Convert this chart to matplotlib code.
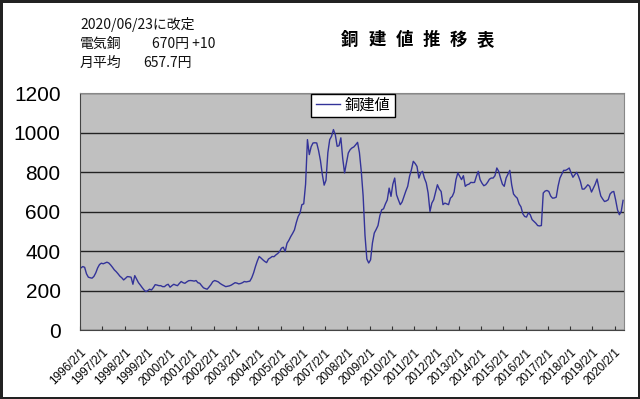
import matplotlib
matplotlib.use('Agg')
import matplotlib.pyplot as plt
import numpy as np

plt.rcParams['font.family'] = ['Liberation Sans', 'Noto Sans CJK JP']

# monthly copper base price (yen/kg), 1996/2 .. 2020/6
start_year = 1996
prices = [
    315, 322, 318, 285, 268, 265, 263, 272, 290, 315, 332, 339,   # 1996/2-
    336, 340, 344, 340, 330, 318, 305, 296, 285, 273, 265, 254,   # 1997/2-
    262, 271, 270, 268, 232, 276, 258, 240, 228, 215, 203, 195,   # 1998/2-
    200, 207, 203, 215, 230, 228, 225, 225, 220, 220, 228, 232,   # 1999/2-
    217, 225, 232, 228, 225, 236, 246, 240, 237, 244, 250, 251,   # 2000/2-
    250, 248, 251, 240, 237, 225, 214, 210, 207, 218, 230, 245,   # 2001/2-
    251, 248, 244, 236, 230, 225, 220, 222, 224, 228, 234, 240,   # 2002/2-
    238, 234, 236, 240, 246, 244, 246, 248, 265, 290, 322, 350,   # 2003/2-
    373, 365, 356, 348, 342, 360, 366, 373, 372, 381, 388, 398,   # 2004/2-
    415, 420, 398, 440, 455, 474, 490, 508, 545, 576, 593, 636,   # 2005/2-
    640, 740, 966, 890, 930, 949, 950, 949, 910, 860, 790, 735,   # 2006/2-
    760, 900, 966, 983, 1017, 991, 932, 935, 975, 870, 797, 847,  # 2007/2-
    898, 915, 924, 929, 940, 952, 900, 805, 680, 480, 360, 340,   # 2008/2-
    356, 441, 492, 510, 530, 580, 610, 615, 640, 660, 720, 678,   # 2009/2-
    740, 771, 686, 660, 636, 650, 678, 705, 729, 780, 813, 856,   # 2010/2-
    845, 830, 771, 797, 805, 770, 746, 695, 601, 644, 661, 700,   # 2011/2-
    737, 715, 703, 636, 644, 640, 636, 669, 678, 700, 763, 797,   # 2012/2-
    780, 763, 783, 729, 737, 740, 749, 748, 749, 780, 805, 763,   # 2013/2-
    745, 732, 737, 749, 765, 771, 771, 783, 822, 805, 771, 740,   # 2014/2-
    729, 771, 790, 810, 737, 690, 678, 669, 640, 625, 590, 576,   # 2015/2-
    573, 595, 585, 560, 551, 542, 530, 528, 530, 695, 705, 708,   # 2016/2-
    703, 680, 669, 670, 674, 730, 771, 790, 810, 810, 815, 822,   # 2017/2-
    797, 775, 788, 800, 780, 754, 715, 715, 725, 737, 729, 700,   # 2018/2-
    720, 740, 766, 720, 680, 665, 652, 655, 661, 690, 700, 703,   # 2019/2-
    660, 610, 585, 601, 657.7,                                    # 2020/2-
]
tick_labels = [f'{y}/2/1' for y in range(1996, 2021)]
y_ticks = [0, 200, 400, 600, 800, 1000, 1200]

n = len(prices)
x = np.arange(n) + 0.5

fig = plt.figure(figsize=(6.4, 3.99), dpi=100)
fig.patch.set_facecolor('white')
fig.patch.set_edgecolor('#222222')
fig.patch.set_linewidth(2.5)

ax = fig.add_axes([80 / 640, 1 - 330 / 399, 544 / 640, (330 - 93.5) / 399])
ax.set_facecolor('#c0c0c0')
line, = ax.plot(x, prices, color='#333399', linewidth=1.0, label='銅建値')

ax.set_xlim(0, n)
ax.set_ylim(0, 1200)
ax.set_yticks(y_ticks)
ax.set_yticklabels([str(v) for v in y_ticks], fontsize=15)
ax.tick_params(axis='y', length=0, pad=14)
ax.set_xticks(np.arange(len(tick_labels)) * 12)
ax.set_xticklabels(tick_labels, fontsize=8.5, rotation=45, ha='right',
                   rotation_mode='anchor')
ax.tick_params(axis='x', direction='in', length=3, pad=12, color='#333333')
ax.yaxis.grid(True, color='#222222', linewidth=1.0)
ax.set_axisbelow(True)
for side in ['left', 'bottom']:
    ax.spines[side].set_color('#444444')
for side in ['top', 'right']:
    ax.spines[side].set_color('#888888')

leg = ax.legend(loc='upper center', bbox_to_anchor=(0.502, 1.0), fontsize=11,
                frameon=True, fancybox=False, borderaxespad=0,
                handlelength=1.6, handletextpad=0.3, borderpad=0.3)
leg.get_frame().set_edgecolor('black')
leg.get_frame().set_linewidth(1.0)
leg.get_frame().set_alpha(1)

jp = ['Noto Sans CJK JP', 'Liberation Sans']
fig.text(80 / 640, 1 - 24 / 399, '2020/06/23に改定', fontsize=10, family=jp,
         va='center', color='#111111')
fig.text(80 / 640, 1 - 44 / 399, '電気銅', fontsize=10, family=jp,
         va='center', color='#111111')
fig.text(152 / 640, 1 - 44 / 399, '670円 +10', fontsize=10, family=jp,
         va='center', color='#111111')
fig.text(80 / 640, 1 - 63 / 399, '月平均', fontsize=10, family=jp,
         va='center', color='#111111')
fig.text(143 / 640, 1 - 63 / 399, '657.7円', fontsize=10, family=jp,
         va='center', color='#111111')

# spaced-out title
for i, ch in enumerate('銅建値推移表'):
    fig.text((350 + i * 27) / 640, 1 - 40 / 399, ch, fontsize=12.5,
             fontweight='bold', family=jp, ha='center', va='center')

fig.savefig('out.png', dpi=100, facecolor=fig.get_facecolor(),
            edgecolor=fig.get_edgecolor())
